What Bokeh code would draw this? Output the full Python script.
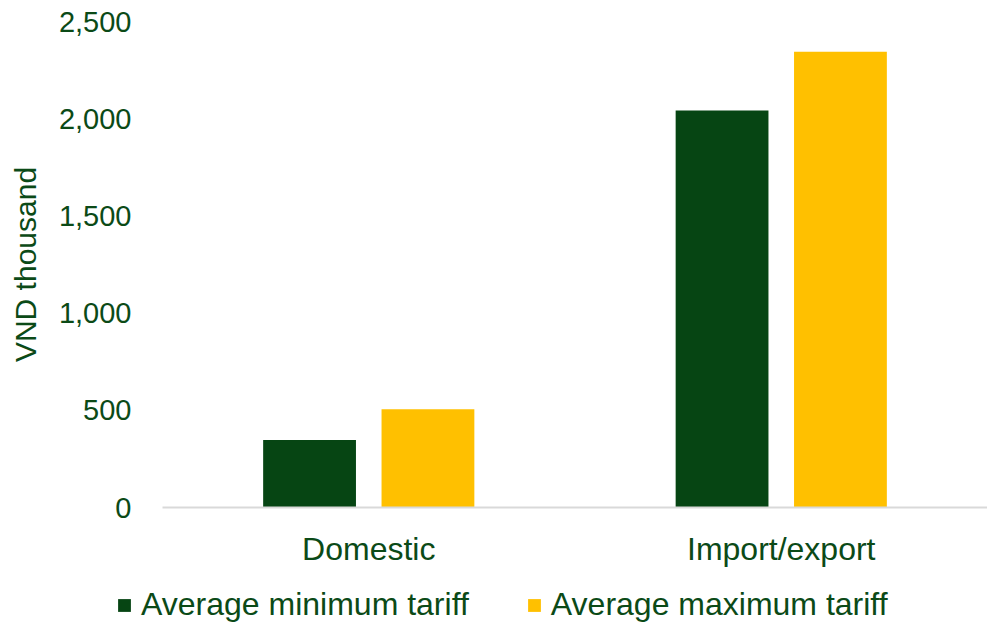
from bokeh.plotting import figure
from bokeh.layouts import column, row
from bokeh.models import ColumnDataSource, FactorRange, Legend, LegendItem, NumeralTickFormatter, FixedTicker, Range1d
from bokeh.transform import dodge
from bokeh.embed import file_html
from bokeh.resources import INLINE

categories = ["Domestic", "Import/export"]
series_names = ["Average minimum tariff", "Average maximum tariff"]
avg_min = [347, 2042]
avg_max = [505, 2344]
y_ticks = [0, 500, 1000, 1500, 2000, 2500]

GREEN = "#064513"
YELLOW = "#FFC000"
TEXT = "#0B4A17"
FONT = "Liberation Sans"

src = ColumnDataSource(dict(cat=categories, mn=avg_min, mx=avg_max))

p = figure(width=987, height=570, x_range=FactorRange(*categories, range_padding=0),
           y_range=(0, 2500), output_backend="svg", toolbar_location=None,
           min_border_left=162, min_border_right=0, min_border_top=21,
           min_border_bottom=63)
p.outline_line_color = None
p.background_fill_color = "white"
p.border_fill_color = "white"

r1 = p.vbar(x=dodge("cat", -0.1435, range=p.x_range), top="mn", width=0.225,
            source=src, fill_color=GREEN, line_color=None)
r2 = p.vbar(x=dodge("cat", 0.1435, range=p.x_range), top="mx", width=0.225,
            source=src, fill_color=YELLOW, line_color=None)

p.xgrid.grid_line_color = None
p.ygrid.grid_line_color = None

p.yaxis.ticker = FixedTicker(ticks=y_ticks)
p.yaxis.formatter = NumeralTickFormatter(format="0,0")
p.yaxis.axis_line_color = None
p.yaxis.major_tick_line_color = None
p.yaxis.minor_tick_line_color = None
p.yaxis.major_label_standoff = 25
p.yaxis.major_label_text_font = FONT
p.yaxis.major_label_text_font_size = "29px"
p.yaxis.major_label_text_color = TEXT
p.yaxis.axis_label = "VND thousand"
p.yaxis.axis_label_text_font = FONT
p.yaxis.axis_label_text_font_size = "30px"
p.yaxis.axis_label_text_font_style = "normal"
p.yaxis.axis_label_text_color = TEXT
p.yaxis.axis_label_standoff = 14

p.xaxis.axis_line_color = "#D9D9D9"
p.xaxis.axis_line_width = 2
p.xaxis.major_tick_line_color = None
p.xaxis.minor_tick_line_color = None
p.xaxis.major_label_standoff = 17
p.xaxis.major_label_text_font = FONT
p.xaxis.major_label_text_font_size = "32px"
p.xaxis.major_label_text_color = TEXT

# legend strip below the chart (zero-height proxy bars only feed the legend)
lg = figure(width=987, height=53, x_range=Range1d(0, 1), y_range=Range1d(0, 1),
            output_backend="svg", toolbar_location=None,
            x_axis_location=None, y_axis_location=None,
            min_border_left=0, min_border_right=0, min_border_top=0, min_border_bottom=0)
lg.grid.visible = False
lg.outline_line_color = None
proxy = ColumnDataSource(dict(x=[0.5], top=[0]))
l1 = lg.vbar(x="x", top="top", width=0.01, source=proxy, fill_color=GREEN, line_color=None)
l2 = lg.vbar(x="x", top="top", width=0.01, source=proxy, fill_color=YELLOW, line_color=None)

legend = Legend(items=[LegendItem(label=series_names[0], renderers=[l1]),
                       LegendItem(label=series_names[1], renderers=[l2])],
                orientation="horizontal", location=(116, 0),
                glyph_width=16, glyph_height=16, label_standoff=9, spacing=57,
                padding=0, margin=0, border_line_color=None,
                background_fill_alpha=0,
                label_text_font=FONT, label_text_font_size="32px",
                label_text_color=TEXT)
lg.add_layout(legend, "center")

layout = column(p, row(lg, spacing=0), spacing=0)
open("out.html", "w").write(file_html(layout, INLINE))
